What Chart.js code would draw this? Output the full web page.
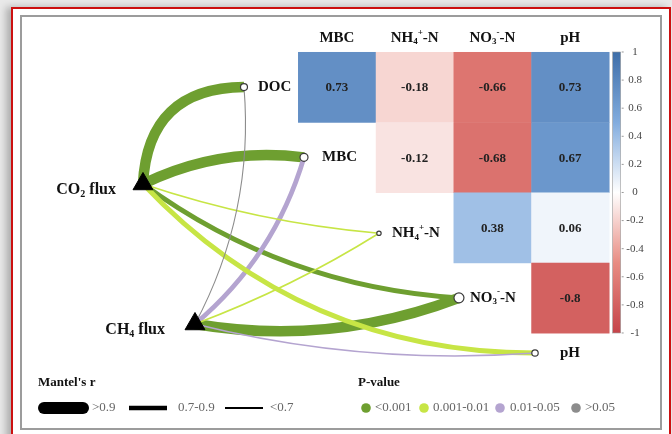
<!DOCTYPE html>
<html>
<head>
<meta charset="utf-8">
<script src="https://cdn.jsdelivr.net/npm/chart.js@4"></script>
<style>
  html, body { margin: 0; padding: 0; }
  body { width: 672px; height: 434px; overflow: hidden; position: relative; background: #e9e9e9; }
  .paper { position: absolute; left: 11px; top: 7px; width: 656px; height: 440px; border: 2px solid #cc1010; background: #fff; box-shadow: -5px 0 7px rgba(0,0,0,0.25); }
  .frame { position: absolute; left: 20px; top: 15px; width: 638px; height: 411px; border: 2px solid #9c9c9c; background: #fff; }
  #c { position: absolute; left: 0; top: 0; }
</style>
</head>
<body>
<div class="paper"></div>
<div class="frame"></div>
<canvas id="c" width="672" height="434"></canvas>
<script>
/* Mantel test network + correlation heatmap */
(function () {
  "use strict";

  // ---- data ----
  var envVars = ["DOC", "MBC", "NH_4^+-N", "NO_3^--N", "pH"];
  var heatRows = ["DOC", "MBC", "NH_4^+-N", "NO_3^--N"];
  var heatCols = ["MBC", "NH_4^+-N", "NO_3^--N", "pH"];
  var corrDOC = [0.73, -0.18, -0.66, 0.73];
  var corrMBC = [null, -0.12, -0.68, 0.67];
  var corrNH4 = [null, null, 0.38, 0.06];
  var corrNO3 = [null, null, null, -0.8];
  var fluxNames = ["CO_2 flux", "CH_4 flux"];
  // edges: flux index -> env index, Mantel's r class, P-value class
  var edgeFrom = [1, 0, 0, 0, 1, 0, 0, 1, 1, 1];
  var edgeTo   = [3, 0, 1, 3, 1, 4, 2, 2, 0, 4];
  var edgeR    = [0, 0, 0, 1, 1, 1, 2, 2, 2, 2];   // 0: >0.9, 1: 0.7-0.9, 2: <0.7
  var edgeP    = [0, 0, 0, 0, 2, 1, 1, 1, 3, 2];   // 0: <0.001, 1: 0.001-0.01, 2: 0.01-0.05, 3: >0.05
  var rLabels = [">0.9", "0.7-0.9", "<0.7"];
  var pLabels = ["<0.001", "0.001-0.01", "0.01-0.05", ">0.05"];
  var colorTicks = [1, 0.8, 0.6, 0.4, 0.2, 0, -0.2, -0.4, -0.6, -0.8, -1];

  // ---- layout / style (grid units: 1 = one heatmap cell) ----
  var envNodeX = [-1.195, -0.423, 0.541, 1.570, 2.548];
  var envNodeY = [0, 1, 2.08, 3, 3.785];
  var envNodeR = [3.5, 4, 2.2, 5, 3.2];
  var envLabelDx = [14, 18, 13, 11, 25];
  var fluxNodeX = [-2.494, -1.825];
  var fluxNodeY = [1.379, 3.372];
  var fluxLabelDx = [-27, -30];
  var edgeBend = [0.136, -0.47, -0.15, 0.146, 0.15, 0.215, 0.06, 0.05, 0.147, 0.08];
  var rWidth = [10.5, 4.8, 1.6];
  var pColor = ["#6e9f30", "#c7e545", "#b4a4d0", "#8c8c8c"];
  var SERIF = "'Liberation Serif', 'Times New Roman', serif";

  function corrColor(v) {
    var stops = [[-1, 197, 68, 74], [-0.5, 232, 140, 130], [0, 255, 255, 255], [0.5, 130, 172, 222], [1, 62, 110, 168]];
    for (var i = 0; i < stops.length - 1; i++) {
      var a = stops[i], b = stops[i + 1];
      if (v >= a[0] && v <= b[0]) {
        var t = (v - a[0]) / (b[0] - a[0]);
        return "rgb(" + [1, 2, 3].map(function (k) { return Math.round(a[k] + (b[k] - a[k]) * t); }).join(",") + ")";
      }
    }
    return "#fff";
  }

  // "NH_4^+-N" -> parts with sub/superscripts
  function parse(s) {
    var out = [], i = 0;
    while (i < s.length) {
      var ch = s[i];
      if (ch === "_" || ch === "^") { out.push({ t: s[i + 1], k: ch === "_" ? 1 : 2 }); i += 2; }
      else { if (out.length && out[out.length - 1].k === 0) out[out.length - 1].t += ch; else out.push({ t: ch, k: 0 }); i++; }
    }
    return out;
  }
  function richText(ctx, s, x, y, size, align, bold) {
    var parts = parse(s), w = 0, small = Math.round(size * 0.62);
    var f = function (sz) { return (bold ? "bold " : "") + sz + "px " + SERIF; };
    parts.forEach(function (p) { ctx.font = f(p.k ? small : size); p.w = ctx.measureText(p.t).width; w += p.w; });
    if (align === "center") x -= w / 2; else if (align === "right") x -= w;
    ctx.textAlign = "left"; ctx.textBaseline = "middle";
    parts.forEach(function (p) {
      ctx.font = f(p.k ? small : size);
      var dy = p.k === 1 ? size * 0.28 : (p.k === 2 ? -size * 0.38 : 0);
      ctx.fillText(p.t, x, y + dy);
      x += p.w;
    });
  }

  var mantel = {
    id: "mantel",
    beforeDatasetsDraw: function (chart) {
      var ctx = chart.ctx, xs = chart.scales.x, ys = chart.scales.y;
      var rows = [corrDOC, corrMBC, corrNH4, corrNO3];
      ctx.save();
      // heatmap cells
      rows.forEach(function (vals, r) {
        vals.forEach(function (v, c) {
          if (v === null) return;
          var x0 = xs.getPixelForValue(c - 0.5), x1 = xs.getPixelForValue(c + 0.5);
          var y0 = ys.getPixelForValue(r - 0.5), y1 = ys.getPixelForValue(r + 0.5);
          ctx.fillStyle = corrColor(v);
          ctx.fillRect(x0, y0, x1 - x0 + 0.5, y1 - y0 + 0.5);
          ctx.fillStyle = "#222";
          ctx.font = "bold 13px " + SERIF; ctx.textAlign = "center"; ctx.textBaseline = "middle";
          ctx.fillText(String(v), (x0 + x1) / 2, (y0 + y1) / 2 + 1);
        });
      });
      // column headers
      ctx.fillStyle = "#111";
      heatCols.forEach(function (h, c) {
        richText(ctx, h, xs.getPixelForValue(c), ys.getPixelForValue(-0.7), 15, "center", true);
      });
      // colour bar
      var bx0 = xs.getPixelForValue(3.547), bx1 = xs.getPixelForValue(3.65);
      var by0 = ys.getPixelForValue(-0.5), by1 = ys.getPixelForValue(3.5);
      var g = ctx.createLinearGradient(0, by0, 0, by1);
      for (var i = 0; i <= 20; i++) g.addColorStop(i / 20, corrColor(1 - i / 10));
      ctx.fillStyle = g; ctx.fillRect(bx0, by0, bx1 - bx0, by1 - by0);
      ctx.strokeStyle = "#9a9a9a"; ctx.lineWidth = 0.6; ctx.strokeRect(bx0, by0, bx1 - bx0, by1 - by0);
      colorTicks.forEach(function (v) {
        var py = ys.getPixelForValue(-0.5 + (1 - v) * 2);
        ctx.strokeStyle = "#999"; ctx.lineWidth = 1;
        ctx.beginPath(); ctx.moveTo(bx1 + 1, py); ctx.lineTo(bx1 + 3, py); ctx.stroke();
        ctx.fillStyle = "#444"; ctx.font = "11px " + SERIF; ctx.textAlign = "center"; ctx.textBaseline = "middle";
        ctx.fillText(String(v), xs.getPixelForValue(3.835), py);
      });
      // edges
      edgeFrom.forEach(function (f, i) {
        var t = edgeTo[i];
        var p0 = { x: xs.getPixelForValue(fluxNodeX[f]), y: ys.getPixelForValue(fluxNodeY[f]) };
        var p1 = { x: xs.getPixelForValue(envNodeX[t]), y: ys.getPixelForValue(envNodeY[t]) };
        var dx = p1.x - p0.x, dy = p1.y - p0.y, k = edgeBend[i];
        var cx = (p0.x + p1.x) / 2 - k * dy, cy = (p0.y + p1.y) / 2 + k * dx;
        ctx.strokeStyle = pColor[edgeP[i]];
        ctx.lineWidth = (edgeP[i] === 3) ? 1.1 : rWidth[edgeR[i]];
        ctx.lineCap = "butt";
        ctx.beginPath(); ctx.moveTo(p0.x, p0.y); ctx.quadraticCurveTo(cx, cy, p1.x, p1.y); ctx.stroke();
      });
      ctx.restore();
    },
    afterDatasetsDraw: function (chart) {
      var ctx = chart.ctx, xs = chart.scales.x, ys = chart.scales.y, a = chart.chartArea;
      ctx.save();
      ctx.fillStyle = "#111";
      envVars.forEach(function (n, i) {
        richText(ctx, n, xs.getPixelForValue(envNodeX[i]) + envLabelDx[i], ys.getPixelForValue(envNodeY[i]), 15, "left", true);
      });
      fluxNames.forEach(function (n, i) {
        richText(ctx, n, xs.getPixelForValue(fluxNodeX[i]) + fluxLabelDx[i], ys.getPixelForValue(fluxNodeY[i]) + 6, 16, "right", true);
      });
      // legend
      var ty = a.top + 383, ly = a.top + 408;
      ctx.font = "bold 13px " + SERIF; ctx.textAlign = "left"; ctx.textBaseline = "middle";
      ctx.fillText("Mantel's r", a.left + 38, ty);
      ctx.fillText("P-value", a.left + 358, ty);
      var lx = [[44, 83, 92], [129, 167, 178], [225, 263, 270]];
      var lw = [12, 4.6, 2.2];
      rLabels.forEach(function (lab, i) {
        ctx.strokeStyle = "#000"; ctx.lineWidth = lw[i]; ctx.lineCap = i === 0 ? "round" : "butt";
        ctx.beginPath(); ctx.moveTo(a.left + lx[i][0], ly); ctx.lineTo(a.left + lx[i][1], ly); ctx.stroke();
        ctx.fillStyle = "#666"; ctx.font = "13px " + SERIF;
        ctx.fillText(lab, a.left + lx[i][2], ly);
      });
      var px = [[366, 375], [424, 433], [500, 510], [576, 585]];
      pLabels.forEach(function (lab, i) {
        ctx.fillStyle = pColor[i];
        ctx.beginPath(); ctx.arc(a.left + px[i][0], ly, 4.8, 0, Math.PI * 2); ctx.fill();
        ctx.fillStyle = "#666"; ctx.font = "13px " + SERIF;
        ctx.fillText(lab, a.left + px[i][1], ly);
      });
      ctx.restore();
    }
  };

  new Chart(document.getElementById("c"), {
    type: "scatter",
    data: {
      datasets: [
        {
          label: "env",
          data: envNodeX.map(function (x, i) { return { x: x, y: envNodeY[i] }; }),
          pointRadius: envNodeR, pointBackgroundColor: "#fff", pointBorderColor: "#3a3a3a", pointBorderWidth: 1.2
        },
        {
          label: "flux",
          data: fluxNodeX.map(function (x, i) { return { x: x, y: fluxNodeY[i] }; }),
          pointStyle: "triangle", pointRadius: 11.5, pointBackgroundColor: "#000", pointBorderColor: "#000", pointBorderWidth: 1
        }
      ]
    },
    options: {
      responsive: false, devicePixelRatio: 1, animation: false,
      layout: { padding: 0, autoPadding: false },
      plugins: { legend: { display: false }, tooltip: { enabled: false } },
      scales: {
        x: { type: "linear", display: false, min: -4.333, max: 4.310 },
        y: { type: "linear", display: false, reverse: true, min: -1.240, max: 4.938 }
      }
    },
    plugins: [mantel]
  });
})();
</script>
</body>
</html>
